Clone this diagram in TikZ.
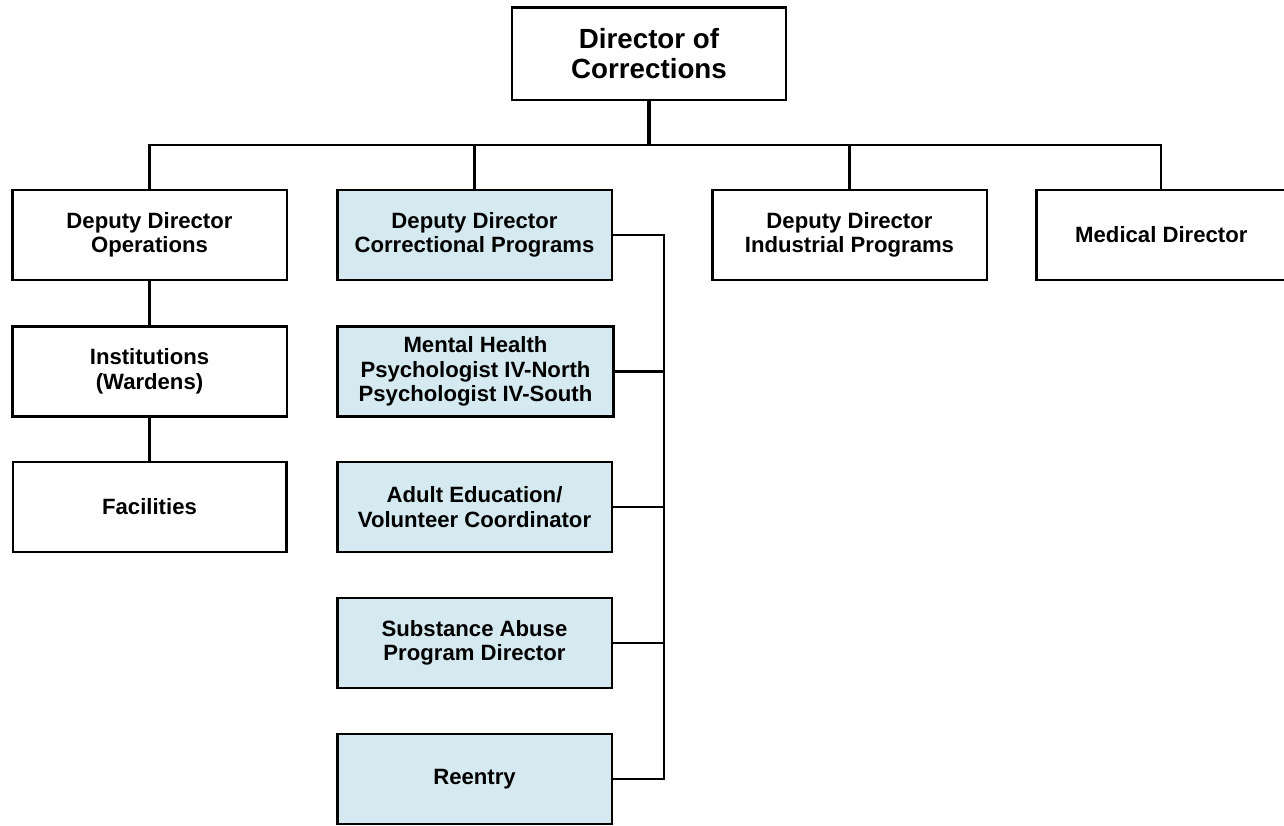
\documentclass[tikz,border=0pt]{standalone}
\usepackage{fontspec}
\setmainfont{Liberation Sans}
\definecolor{progblue}{RGB}{213,234,240}
\begin{document}
\begin{tikzpicture}[x=0.75pt, y=-0.75pt,
    box/.style={draw, line width=2pt, align=center, inner sep=2pt,
        minimum width=206pt, minimum height=67.5pt,
        font=\fontsize{16.6}{18.4}\selectfont\bfseries},
    progbox/.style={box, fill=progblue},
    topbox/.style={box, minimum width=205.5pt, minimum height=69.5pt,
        font=\fontsize{20.8}{22.5}\selectfont\bfseries},
    link/.style={line width=2pt}]
    \useasboundingbox (0,0) rectangle (1284,825);
    \draw (649,53.5) node[topbox](dir){Director of\\Corrections};
    \draw (149.5,235) node[box](ops){Deputy Director\\Operations};
    \draw (474.5,235) node[progbox](ccp){Deputy Director\\Correctional Programs};
    \draw (849.5,235) node[box](ind){Deputy Director\\Industrial Programs};
    \draw (1170,235) node[box, minimum width=200pt](med){\hspace*{-13pt}Medical Director};
    \draw (149.5,371.5) node[box](inst){Institutions\\(Wardens)};
    \draw (149.5,507) node[box, minimum width=205pt](fac){Facilities};
    \draw (475.5,371.5) node[progbox, minimum width=207pt](mh){Mental Health\\Psychologist IV-North\\Psychologist IV-South};
    \draw (474.5,507) node[progbox](adult){Adult Education/\\Volunteer Coordinator};
    \draw (474.5,643) node[progbox](sub){Substance Abuse\\Program Director};
    \draw (474.5,779) node[progbox](re){Reentry};
    \coordinate (bus) at (649,145);
    \coordinate (rtop) at (664,235);
    \coordinate (rbot) at (664,779);
    \draw[link, line width=2.6pt] (dir.south) -- (bus);
    \draw[link] (ops.north) |- (bus) -| ([xshift=-6.75pt]med.north);
    \draw[link] (ccp.north) -- (ccp.north |- bus);
    \draw[link] (ind.north) -- (ind.north |- bus);
    \draw[link] (ops) -- (inst);
    \draw[link] (inst) -- (fac);
    \draw[link] (ccp.east) -- (rtop) -- (rbot) -- (re.east);
    \draw[link] (mh.east) -- (mh.east -| rtop);
    \draw[link] (adult.east) -- (adult.east -| rtop);
    \draw[link] (sub.east) -- (sub.east -| rtop);
\end{tikzpicture}
\end{document}
